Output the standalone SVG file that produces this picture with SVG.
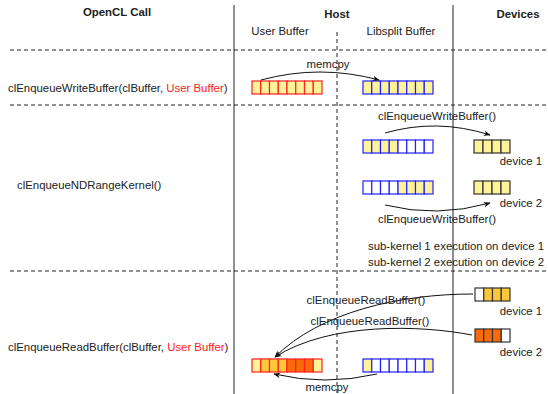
<svg xmlns="http://www.w3.org/2000/svg" width="548" height="394" viewBox="0 0 548 394">
<defs>
<style>
text{font-family:"Liberation Sans","DejaVu Sans",sans-serif;font-size:11.4px;fill:#222}
.b{font-weight:bold}
.m{text-anchor:middle}
.red{fill:#ff2020}
.sep{stroke:#222;stroke-width:1;stroke-dasharray:4,3;fill:none}
.col{stroke:#222;stroke-width:1;fill:none}
.arr{stroke:#111;stroke-width:1;fill:none;marker-end:url(#ah)}
.ru rect{stroke:#ff2020;stroke-width:1.2}
.bl rect{stroke:#2020ff;stroke-width:1.2}
.dv rect{stroke:#333;stroke-width:1.2}
.y{fill:#fff39a}
.w{fill:#ffffff}
.g{fill:#fcc83a}
.o{fill:#f86a0a}
</style>
<marker id="ah" viewBox="0 0 10 10" refX="9" refY="5" markerWidth="7" markerHeight="7" orient="auto-start-reverse" markerUnits="userSpaceOnUse">
<path d="M0,1 L10,5 L0,9 L3,5 z" fill="#111"/>
</marker>
</defs>
<rect width="548" height="394" fill="#fff"/>

<g id="frame">
<line class="col" x1="234" y1="5" x2="234" y2="394"/>
<line class="col" x1="453" y1="5" x2="453" y2="394"/>
<line class="sep" x1="337" y1="32" x2="337" y2="394"/>
<line class="sep" x1="10" y1="50" x2="548" y2="50"/>
<line class="sep" x1="10" y1="105" x2="548" y2="105"/>
<line class="sep" x1="10" y1="271" x2="548" y2="271"/>
</g>

<g id="headers">
<text class="b m" x="117" y="16">OpenCL Call</text>
<text class="b m" x="337" y="18">Host</text>
<text class="b m" x="518" y="18">Devices</text>
<text class="m" x="280" y="35">User Buffer</text>
<text class="m" x="401" y="35">Libsplit Buffer</text>
</g>

<g id="calls">
<text x="8" y="92">clEnqueueWriteBuffer(clBuffer, <tspan class="red">User Buffer</tspan>)</text>
<text x="17" y="189">clEnqueueNDRangeKernel()</text>
<text x="8" y="351">clEnqueueReadBuffer(clBuffer, <tspan class="red">User Buffer</tspan>)</text>
</g>

<g id="user-buffer-1" class="ru">
<rect class="y" x="252" y="81" width="8.75" height="13"/><rect class="y" x="260.75" y="81" width="8.75" height="13"/><rect class="y" x="269.5" y="81" width="8.75" height="13"/><rect class="y" x="278.25" y="81" width="8.75" height="13"/><rect class="y" x="287" y="81" width="8.75" height="13"/><rect class="y" x="295.75" y="81" width="8.75" height="13"/><rect class="y" x="304.5" y="81" width="8.75" height="13"/><rect class="y" x="313.25" y="81" width="8.75" height="13"/>
</g>
<g id="libsplit-buffer-1" class="bl">
<rect class="y" x="363" y="81" width="8.75" height="13"/><rect class="y" x="371.75" y="81" width="8.75" height="13"/><rect class="y" x="380.5" y="81" width="8.75" height="13"/><rect class="y" x="389.25" y="81" width="8.75" height="13"/><rect class="y" x="398" y="81" width="8.75" height="13"/><rect class="y" x="406.75" y="81" width="8.75" height="13"/><rect class="y" x="415.5" y="81" width="8.75" height="13"/><rect class="y" x="424.25" y="81" width="8.75" height="13"/>
</g>

<g id="libsplit-buffer-2a" class="bl">
<rect class="y" x="363" y="140" width="8.75" height="13"/><rect class="y" x="371.75" y="140" width="8.75" height="13"/><rect class="y" x="380.5" y="140" width="8.75" height="13"/><rect class="y" x="389.25" y="140" width="8.75" height="13"/><rect class="w" x="398" y="140" width="8.75" height="13"/><rect class="w" x="406.75" y="140" width="8.75" height="13"/><rect class="w" x="415.5" y="140" width="8.75" height="13"/><rect class="w" x="424.25" y="140" width="8.75" height="13"/>
</g>
<g id="libsplit-buffer-2b" class="bl">
<rect class="w" x="363" y="181" width="8.75" height="13"/><rect class="w" x="371.75" y="181" width="8.75" height="13"/><rect class="w" x="380.5" y="181" width="8.75" height="13"/><rect class="w" x="389.25" y="181" width="8.75" height="13"/><rect class="y" x="398" y="181" width="8.75" height="13"/><rect class="y" x="406.75" y="181" width="8.75" height="13"/><rect class="y" x="415.5" y="181" width="8.75" height="13"/><rect class="y" x="424.25" y="181" width="8.75" height="13"/>
</g>

<g id="device1-buffer-2" class="dv">
<rect class="y" x="474" y="140" width="9" height="13"/><rect class="y" x="483" y="140" width="9" height="13"/><rect class="y" x="492" y="140" width="9" height="13"/><rect class="y" x="501" y="140" width="9" height="13"/>
</g>
<g id="device2-buffer-2" class="dv">
<rect class="y" x="474" y="181" width="9" height="13"/><rect class="y" x="483" y="181" width="9" height="13"/><rect class="y" x="492" y="181" width="9" height="13"/><rect class="y" x="501" y="181" width="9" height="13"/>
</g>

<g id="device1-buffer-3" class="dv">
<rect class="w" x="475" y="288" width="8.75" height="13"/><rect class="g" x="483.75" y="288" width="8.75" height="13"/><rect class="g" x="492.5" y="288" width="8.75" height="13"/><rect class="g" x="501.25" y="288" width="8.75" height="13"/>
</g>
<g id="device2-buffer-3" class="dv">
<rect class="o" x="475" y="329" width="8.75" height="13"/><rect class="o" x="483.75" y="329" width="8.75" height="13"/><rect class="o" x="492.5" y="329" width="8.75" height="13"/><rect class="w" x="501.25" y="329" width="8.75" height="13"/>
</g>

<g id="user-buffer-3" class="ru">
<rect class="y" x="252" y="359" width="8.75" height="13"/><rect class="g" x="260.75" y="359" width="8.75" height="13"/><rect class="g" x="269.5" y="359" width="8.75" height="13"/><rect class="g" x="278.25" y="359" width="8.75" height="13"/><rect class="o" x="287" y="359" width="8.75" height="13"/><rect class="o" x="295.75" y="359" width="8.75" height="13"/><rect class="o" x="304.5" y="359" width="8.75" height="13"/><rect class="y" x="313.25" y="359" width="8.75" height="13"/>
</g>
<g id="libsplit-buffer-3" class="bl">
<rect class="y" x="363" y="359" width="8.75" height="13"/><rect class="w" x="371.75" y="359" width="8.75" height="13"/><rect class="w" x="380.5" y="359" width="8.75" height="13"/><rect class="w" x="389.25" y="359" width="8.75" height="13"/><rect class="w" x="398" y="359" width="8.75" height="13"/><rect class="w" x="406.75" y="359" width="8.75" height="13"/><rect class="w" x="415.5" y="359" width="8.75" height="13"/><rect class="y" x="424.25" y="359" width="8.75" height="13"/>
</g>

<g id="connectors">
<path class="arr" d="M261,80 Q320,64 379,80"/>
<path class="arr" d="M385,133 Q437,118 490,135"/>
<path class="arr" d="M385,205 Q437,218 490,203"/>
<path class="arr" d="M473,294 C400,294 320,312 275,357"/>
<path class="arr" d="M472,335 C420,325 330,322 275,357"/>
<path class="arr" d="M377,374 Q325,386 274,374"/>
</g>

<g id="labels">
<text class="m" x="328" y="68">memcpy</text>
<text class="m" x="437" y="120">clEnqueueWriteBuffer()</text>
<text class="m" x="437" y="223">clEnqueueWriteBuffer()</text>
<text x="521" y="165" class="m">device 1</text>
<text x="521" y="207" class="m">device 2</text>
<text x="368" y="250">sub-kernel 1 execution on device 1</text>
<text x="368" y="266">sub-kernel 2 execution on device 2</text>
<text class="m" x="366" y="304">clEnqueueReadBuffer()</text>
<text class="m" x="370" y="325">clEnqueueReadBuffer()</text>
<text x="521" y="315" class="m">device 1</text>
<text x="521" y="356" class="m">device 2</text>
<text class="m" x="327" y="391">memcpy</text>
</g>
</svg>
